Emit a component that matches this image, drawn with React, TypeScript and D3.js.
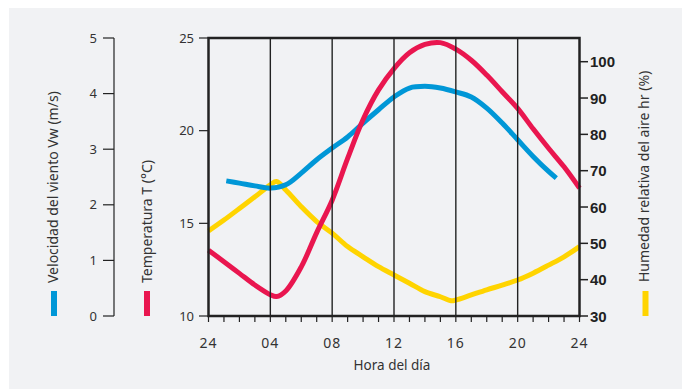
import React from "react";
import * as d3 from "d3";

const tempHours = [0, 1, 2, 3, 4, 4.4, 5, 6, 7, 8, 9, 10, 11, 12, 13, 14, 15, 16, 17, 18, 19, 20, 21, 22, 23, 24];
const temperature = [13.55, 12.93, 12.3, 11.67, 11.15, 11.05, 11.35, 12.65, 14.5, 16.25, 18.5, 20.6, 22.2, 23.35, 24.2, 24.65, 24.75, 24.4, 23.8, 23.0, 22.1, 21.2, 20.1, 19.05, 18.05, 16.9];

const windHours = [1.15, 2, 3, 4, 5, 6, 7, 8, 9, 10, 11, 12, 13, 14, 15, 16, 17, 18, 19, 20, 21, 22, 22.5];
const wind = [2.43, 2.39, 2.34, 2.3, 2.36, 2.57, 2.81, 3.02, 3.22, 3.47, 3.71, 3.94, 4.1, 4.13, 4.1, 4.03, 3.94, 3.74, 3.47, 3.17, 2.87, 2.6, 2.48];

const humHours = [0, 1, 2, 3, 4, 4.4, 5, 6, 7, 8, 9, 10, 11, 12, 13, 14, 15, 15.7, 16, 17, 18, 19, 20, 21, 22, 23, 24];
const humidity = [53.4, 56.4, 59.6, 62.8, 66.1, 67.0, 64.7, 60.1, 56.0, 52.8, 49.1, 46.3, 43.6, 41.3, 39.0, 36.7, 35.3, 34.2, 34.4, 35.8, 37.2, 38.5, 39.9, 41.8, 44.0, 46.3, 49.1];

const hourTickLabels = ["24", "04", "08", "12", "16", "20", "24"];
const windTicks = [0, 1, 2, 3, 4, 5];
const tempTicks = [10, 15, 20, 25];
const humTicks = [30, 40, 50, 60, 70, 80, 90, 100];

const BLUE = "#0097d7";
const RED = "#e9164f";
const YELLOW = "#ffd400";
const INK = "#222";
const FONT = "'Noto Sans', 'Open Sans', sans-serif";

export default function App() {
  const left = 208.5, right = 579.5, top = 38, bottom = 316;
  const x = d3.scaleLinear().domain([0, 24]).range([left, right]);
  const yT = d3.scaleLinear().domain([10, 25]).range([bottom, top]);
  const yW = d3.scaleLinear().domain([0, 5]).range([bottom, top]);
  const yH = d3.scaleLinear().domain([30, 100]).range([bottom, 61.7]);

  const mk = (hs: number[], vs: number[], y: d3.ScaleLinear<number, number>) =>
    d3.line<number>().x((_, i) => x(hs[i])).y((v) => y(v)).curve(d3.curveCatmullRom.alpha(0.5))(vs) || "";

  const hourTicks = d3.range(0, 25, 1);
  const majorHours = d3.range(0, 25, 4);

  return (
    <svg width={682} height={389} style={{ position: "absolute", left: 0, top: 0 }} fontFamily={FONT}>
      <rect x={9} y={8} width={673} height={381} fill="#f1f2f4" />

      {/* wind axis */}
      <line x1={114} x2={114} y1={yW(0)} y2={yW(5)} stroke={INK} strokeWidth={1.2} />
      {windTicks.map((t) => (
        <g key={"w" + t}>
          <line x1={103} x2={114} y1={yW(t)} y2={yW(t)} stroke={INK} strokeWidth={1.2} />
          <text x={97} y={yW(t) + 4.5} textAnchor="end" fontSize={13} fill="#333">{t}</text>
        </g>
      ))}

      {/* temperature axis ticks */}
      {tempTicks.map((t) => (
        <g key={"t" + t}>
          <line x1={199} x2={left} y1={yT(t)} y2={yT(t)} stroke={INK} strokeWidth={1.2} />
          <text x={194} y={yT(t) + 4.5} textAnchor="end" fontSize={13} fill="#333">{t}</text>
        </g>
      ))}

      {/* humidity axis ticks */}
      {humTicks.map((t) => (
        <g key={"h" + t}>
          <line x1={right} x2={588} y1={yH(t)} y2={yH(t)} stroke={INK} strokeWidth={1.5} />
          <text x={590} y={yH(t) + 5.5} textAnchor="start" fontSize={15} fontWeight="bold" fill="#222" fontFamily="'Liberation Sans', Arial, sans-serif">{t}</text>
        </g>
      ))}

      {/* curves */}
      <path d={mk(humHours, humidity, yH)} fill="none" stroke={YELLOW} strokeWidth={5} />
      <path d={mk(windHours, wind, yW)} fill="none" stroke={BLUE} strokeWidth={5} />
      <path d={mk(tempHours, temperature, yT)} fill="none" stroke={RED} strokeWidth={5} />

      {/* vertical grid */}
      {majorHours.slice(1, -1).map((h) => (
        <line key={"g" + h} x1={x(h)} x2={x(h)} y1={top} y2={bottom} stroke={INK} strokeWidth={1.4} />
      ))}

      {/* frame */}
      <rect x={left} y={top} width={right - left} height={bottom - top} fill="none" stroke={INK} strokeWidth={2.5} />

      {/* bottom ticks */}
      {hourTicks.map((h) => (
        <line key={"bt" + h} x1={x(h)} x2={x(h)} y1={bottom} y2={bottom + 6} stroke={INK} strokeWidth={1.2} />
      ))}
      {majorHours.map((h, i) => (
        <text key={"bl" + h} x={x(h)} y={348} textAnchor="middle" fontSize={14} letterSpacing={1} fill="#333">{hourTickLabels[i]}</text>
      ))}
      <text x={392} y={370} textAnchor="middle" fontSize={13.5} fill="#333">Hora del día</text>

      {/* rotated titles and legend swatches */}
      <text transform="translate(58,283) rotate(-90)" fontSize={14} fill="#333">Velocidad del viento Vw (m/s)</text>
      <rect x={51} y={291} width={6} height={25} fill={BLUE} />
      <text transform="translate(151.5,283) rotate(-90)" fontSize={14} fill="#333">Temperatura T (°C)</text>
      <rect x={144} y={291} width={6} height={25} fill={RED} />
      <text transform="translate(648.5,282) rotate(-90)" fontSize={14} fill="#333">Humedad relativa del aire hr (%)</text>
      <rect x={642.5} y={291} width={6} height={25} fill={YELLOW} />
    </svg>
  );
}
